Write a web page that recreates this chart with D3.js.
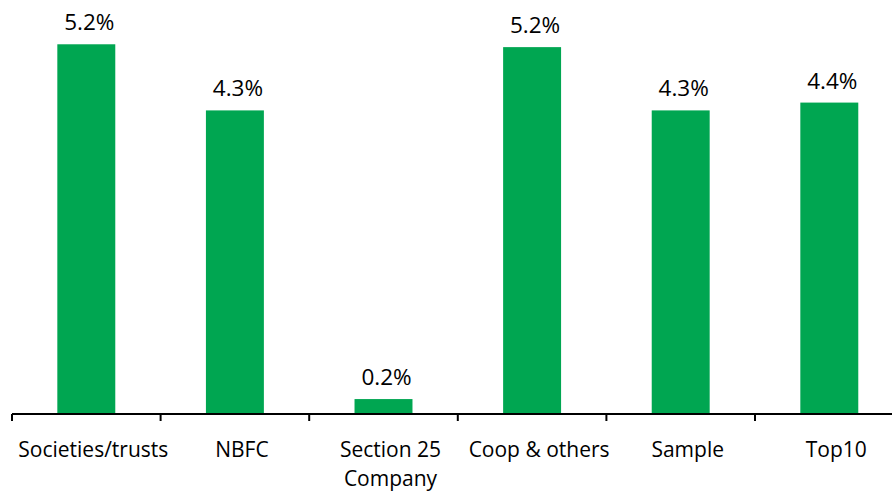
<!DOCTYPE html>
<html>
<head>
<meta charset="utf-8">
<script src="https://cdn.jsdelivr.net/npm/d3@7"></script>
<style>
  html, body { margin: 0; padding: 0; background: #fff; }
  svg { display: block; }
  text { font-family: "Open Sans", "Noto Sans", sans-serif; fill: #000; }
</style>
</head>
<body>
<svg id="chart" width="892" height="491"></svg>
<script>
// Category names (multi-line labels split on "\n")
const categories = ["Societies/trusts", "NBFC", "Section 25\nCompany", "Coop & others", "Sample", "Top10"];
// Share (%) for each category
const values = [5.20, 4.27, 0.21, 5.16, 4.27, 4.38];

const width = 892, height = 491;
const svg = d3.select("#chart");

const left = 12, step = 148.6;
const baseline = 414;

// Band boundaries for the axis ticks
const xOuter = d3.scaleBand()
  .domain(categories)
  .range([left, left + step * categories.length])
  .padding(0);

// Bars sit centred in each band
const x = d3.scaleBand()
  .domain(categories)
  .range([left, left + step * categories.length])
  .paddingInner(0.61)
  .paddingOuter(0.305);

const y = d3.scaleLinear()
  .domain([0, 5.8])
  .range([baseline, baseline - 5.8 * 71.1]);

const fmt = d3.format(".1f");

// Bars
svg.append("g")
  .selectAll("rect")
  .data(categories)
  .join("rect")
  .attr("x", d => x(d))
  .attr("width", x.bandwidth())
  .attr("y", (d, i) => y(values[i]))
  .attr("height", (d, i) => y(0) - y(values[i]))
  .attr("fill", "#00A651");

// Value labels above bars
svg.append("g")
  .selectAll("text")
  .data(categories)
  .join("text")
  .attr("x", d => x(d) + x.bandwidth() / 2 + 3)
  .attr("y", (d, i) => y(values[i]) - 14)
  .attr("text-anchor", "middle")
  .attr("font-size", 22.5)
  .text((d, i) => fmt(values[i]) + "%");

// Category axis: baseline plus tick marks at band edges
const axis = svg.append("g");
axis.append("line")
  .attr("x1", left).attr("x2", width + 20)
  .attr("y1", baseline).attr("y2", baseline)
  .attr("stroke", "#000").attr("stroke-width", 2);

const edges = categories.map(c => xOuter(c));
axis.selectAll("line.tick")
  .data(edges)
  .join("line")
  .attr("class", "tick")
  .attr("x1", d => d).attr("x2", d => d)
  .attr("y1", baseline).attr("y2", baseline + 7)
  .attr("stroke", "#000").attr("stroke-width", 2);

// Category labels
const labels = axis.selectAll("text")
  .data(categories)
  .join("text")
  .attr("x", d => xOuter(d) + xOuter.bandwidth() / 2 + 7)
  .attr("y", 457)
  .attr("text-anchor", "middle")
  .attr("font-size", 21);

labels.each(function(d) {
  const lines = d.split("\n");
  const t = d3.select(this);
  lines.forEach((ln, i) => {
    t.append("tspan")
      .attr("x", t.attr("x"))
      .attr("dy", i === 0 ? 0 : 29)
      .text(ln);
  });
});
</script>
</body>
</html>
